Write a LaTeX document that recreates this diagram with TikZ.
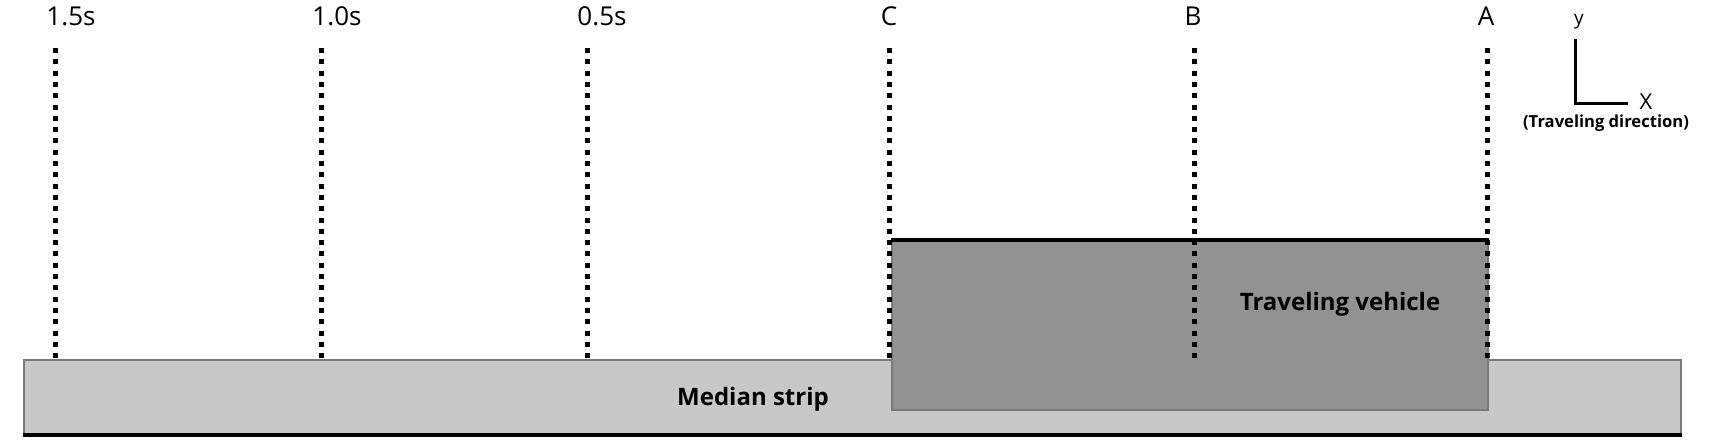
\documentclass[tikz,border=0pt]{standalone}
\usepackage{fontspec}
\setmainfont{Open Sans}
\definecolor{medianfill}{HTML}{C8C8C8}
\definecolor{vehfill}{HTML}{929292}
\definecolor{edgegray}{HTML}{7A7A7A}
\begin{document}
\begin{tikzpicture}[x=0.5pt,y=-0.5pt,
  dotline/.style={line width=2.5pt,dash pattern=on 2.5pt off 3.15pt},
  tick/.style={font=\fontsize{13}{15}\selectfont,anchor=base,inner sep=0pt},
  boldlab/.style={font=\bfseries\fontsize{12}{14}\selectfont,inner sep=0pt},
  axisline/.style={line width=1.5pt}]
\useasboundingbox (0,0) rectangle (1710,441);
% median strip
\node[draw=edgegray,line width=0.8pt,fill=medianfill,inner sep=0pt,minimum width=828.5pt,minimum height=37pt,anchor=north west] (median) at (23,359) {};
\draw[line width=2pt] (median.south west) -- (median.south east);
% vehicle
\node[draw=edgegray,line width=0.8pt,fill=vehfill,inner sep=0pt,minimum width=298pt,minimum height=84.5pt,anchor=north west] (veh) at (891,240) {};
\draw[line width=2pt] (veh.north west) -- (veh.north east);
% dotted lines
\foreach \n/\x in {a/55,b/321,c/587,d/889,e/1194,f/1487}{
  \coordinate (top\n) at (\x,48);
  \coordinate (bot\n) at (\x,359);
  \draw[dotline] (top\n) -- (bot\n);
}
% labels
\node[tick] (l15) at (71,25) {1.5s};
\node[tick] (l10) at (337,25) {1.0s};
\node[tick] (l05) at (602,25) {0.5s};
\node[tick] (lC) at (889,25) {C};
\node[tick] (lB) at (1193,25) {B};
\node[tick] (lA) at (1486,25) {A};
\node[boldlab,anchor=base] (medlab) at (753,405) {Median strip};
\node[boldlab,anchor=base] (vehlab) at (1340,310) {Traveling vehicle};
% axis
\coordinate (ax0) at (1575,103);
\coordinate (axy) at (1575,39);
\coordinate (axx) at (1628,103);
\draw[axisline] (axy) -- (ax0) -- (axx);
\node[font=\fontsize{9.5}{11}\selectfont,inner sep=0pt] (ylab) at (1579,22) {y};
\node[font=\fontsize{11}{13}\selectfont,inner sep=0pt,anchor=base] (xlab) at (1646,109) {X};
\node[font=\bfseries\fontsize{8.3}{10}\selectfont,inner sep=0pt] (cap) at (1606,123) {(Traveling direction)};
\end{tikzpicture}
\end{document}
